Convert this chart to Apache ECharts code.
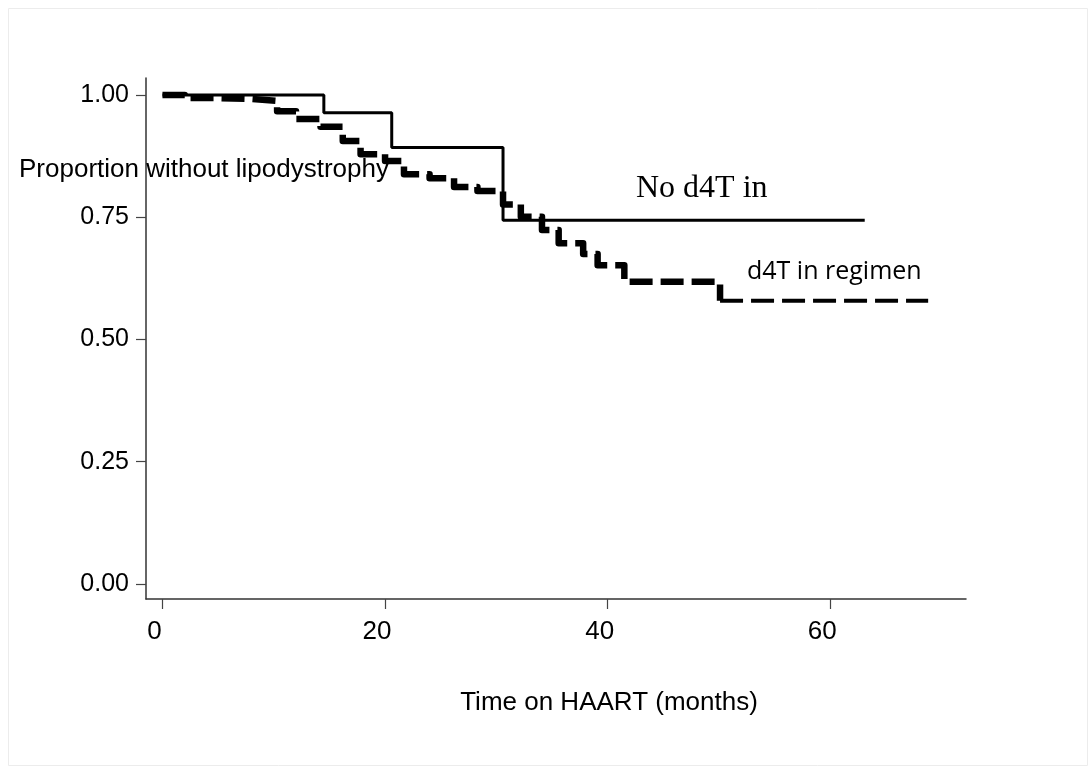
<!DOCTYPE html>
<html>
<head>
<meta charset="utf-8">
<script src="https://cdn.jsdelivr.net/npm/echarts@6/dist/echarts.min.js"></script>
<style>
html,body{margin:0;padding:0;background:#fff;}
#chart{width:1091px;height:769px;}
</style>
</head>
<body>
<div id="chart"></div>
<script>
// Kaplan-Meier style survival data
var noD4tTime = [0, 14.5, 20.6, 30.6, 63.1];
var noD4tSurv = [1.0, 0.964, 0.893, 0.744, 0.744];

var d4tTime = [0, 2, 4.7, 8, 10.3, 12, 14.2, 16.2, 17.8, 20, 21.7, 24, 26.2, 28.3, 30.6, 32.2, 34.1, 35.6, 37.8, 39.1, 41.5, 50.1, 68.8];
var d4tSurv = [1.0, 0.994, 0.992, 0.988, 0.967, 0.951, 0.935, 0.906, 0.879, 0.865, 0.838, 0.830, 0.812, 0.804, 0.776, 0.751, 0.724, 0.697, 0.675, 0.652, 0.618, 0.579, 0.579];

var xTicks = [0, 20, 40, 60];
var yTicks = [0, 0.25, 0.5, 0.75, 1.0];

var xTitle = 'Time on HAART (months)';
var yTitle = 'Proportion without lipodystrophy';
var label1 = 'No d4T in';
var label2 = 'd4T in regimen';

function pairs(t, s) { return t.map(function (v, i) { return [v, s[i]]; }); }
var noD4tData = pairs(noD4tTime, noD4tSurv);
var d4tAll = pairs(d4tTime, d4tSurv);
var d4tMain = d4tAll.slice(0, d4tAll.length - 1);
var d4tTail = d4tAll.slice(d4tAll.length - 2);

var chart = echarts.init(document.getElementById('chart'));
var axisColor = '#333';
var sans = '"Liberation Sans", Arial, sans-serif';

chart.setOption({
  backgroundColor: '#fff',
  animation: false,
  grid: { left: 146, right: 125, top: 78, bottom: 170 },
  xAxis: {
    type: 'value',
    min: -1.48, max: 72.2,
    axisLine: { show: true, onZero: false, lineStyle: { color: axisColor, width: 1.5 } },
    axisTick: { show: true, length: 10, customValues: xTicks, lineStyle: { color: '#444', width: 1.2 } },
    axisLabel: { customValues: xTicks, color: '#000', fontFamily: sans, fontSize: 26, margin: 20, padding: [0, 16, 0, 0] },
    splitLine: { show: false },
    name: xTitle,
    nameLocation: 'middle',
    nameGap: 91,
    nameTextStyle: { color: '#000', fontFamily: sans, fontSize: 26, padding: [0, 0, 0, 106] }
  },
  yAxis: {
    type: 'value',
    min: -0.031, max: 1.035,
    axisLine: { show: true, onZero: false, lineStyle: { color: axisColor, width: 1.5 } },
    axisTick: { show: true, length: 10, customValues: yTicks, lineStyle: { color: '#444', width: 1.2 } },
    axisLabel: { customValues: yTicks, color: '#000', fontFamily: sans, fontSize: 25, margin: 17,
      formatter: function (v) { return v.toFixed(2); } },
    splitLine: { show: false }
  },
  graphic: [
    { type: 'rect', left: 6, top: 6, shape: { width: 1079, height: 757 }, style: { fill: 'none', stroke: '#ececec', lineWidth: 1 }, silent: true },
    { type: 'text', left: 19, top: 157, style: { text: yTitle, fill: '#000', font: '26px "Liberation Sans", Arial, sans-serif' }, z: 10 },
    { type: 'text', left: 636, top: 173, style: { text: label1, fill: '#000', font: '32px "Liberation Serif", "Times New Roman", serif' }, z: 10 },
    { type: 'text', left: 747, top: 259, style: { text: label2, fill: '#000', font: '25px "Open Sans", sans-serif' }, z: 10 }
  ],
  series: [
    {
      name: label1, type: 'line', step: 'end', data: noD4tData,
      showSymbol: false, symbol: 'none', z: 2,
      lineStyle: { color: '#000', width: 3, type: 'solid' }
    },
    {
      name: label2, type: 'line', step: 'end', data: d4tMain,
      showSymbol: false, symbol: 'none', z: 3,
      lineStyle: { color: '#000', width: 6.5, type: [23, 8], cap: 'butt', join: 'round' }
    },
    {
      name: label2 + ' tail', type: 'line', data: d4tTail,
      showSymbol: false, symbol: 'none', z: 3,
      lineStyle: { color: '#000', width: 4, type: [23, 8], cap: 'butt' }
    }
  ]
});
</script>
</body>
</html>
